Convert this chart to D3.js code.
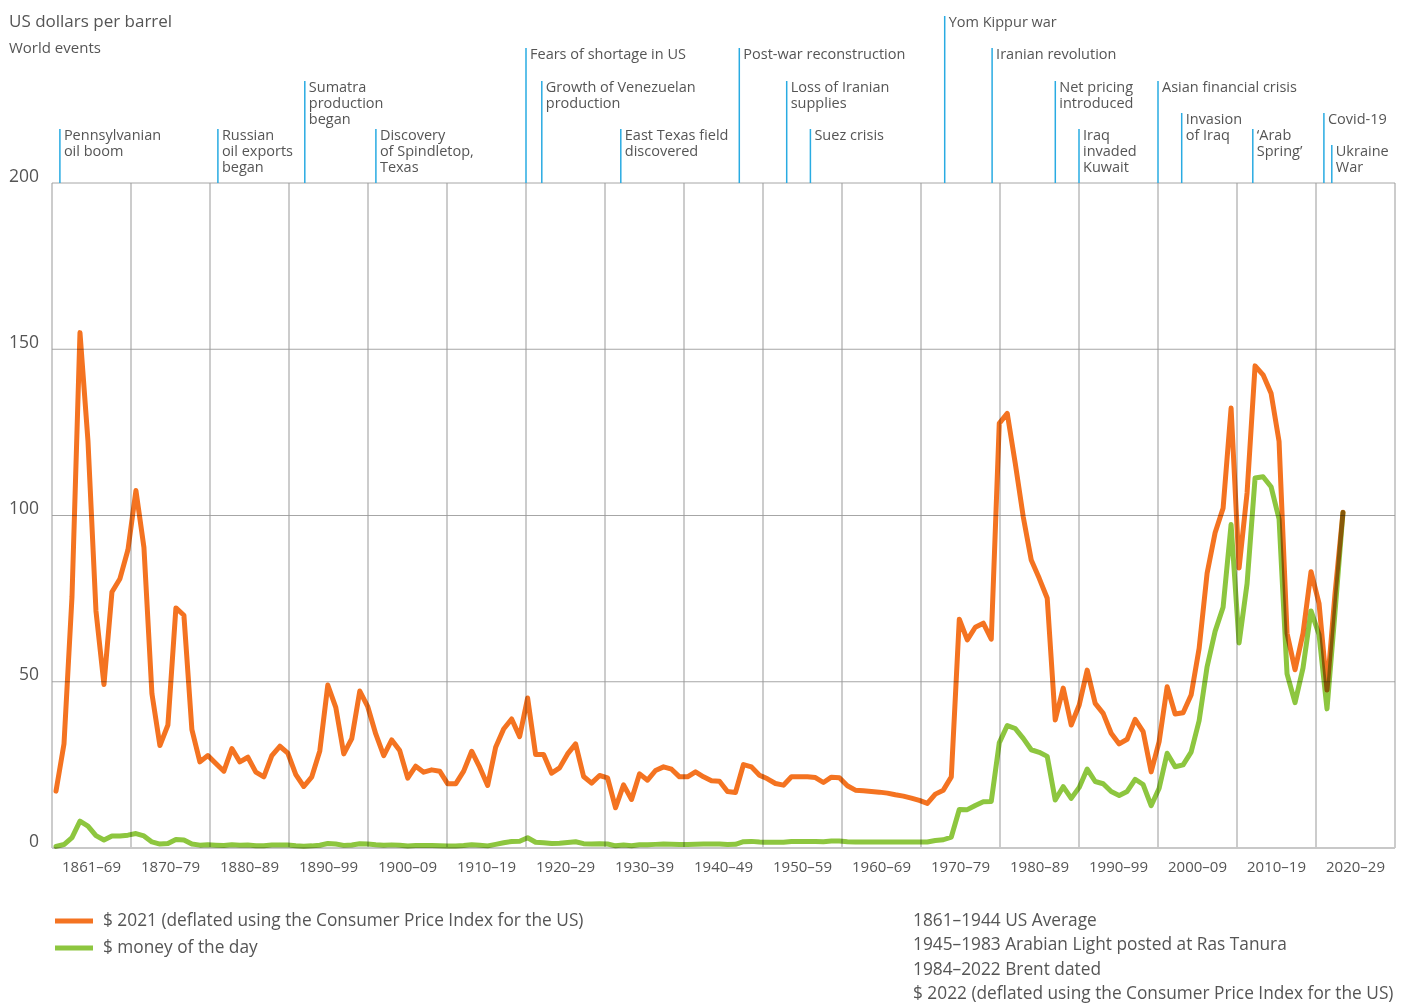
<!DOCTYPE html>
<html>
<head>
<meta charset="utf-8">
<script src="https://cdn.jsdelivr.net/npm/d3@7/dist/d3.min.js"></script>
<style>
  body { margin: 0; background: #fff; }
  svg text { font-family: "Open Sans", "Noto Sans", sans-serif; fill: #555; }
</style>
</head>
<body>
<div id="chart"></div>
<script>
// ---- data ----
const years = d3.range(1861, 2023);

const decadeLabels = ["1861–69", "1870–79", "1880–89", "1890–99", "1900–09", "1910–19",
  "1920–29", "1930–39", "1940–49", "1950–59", "1960–69", "1970–79", "1980–89",
  "1990–99", "2000–09", "2010–19", "2020–29"];

const yTicks = [0, 50, 100, 150, 200];

// deflated price, one value per year 1861-2022
const realPrice = [
  17.1, 31.3, 75.5, 155, 122.4, 71.3, 49.2, 77, 81,
  89.7, 107.5, 90.4, 46.4, 30.8, 37, 72.2, 70, 35.6, 25.9,
  27.8, 25.4, 23.1, 29.9, 25.9, 27.3, 22.8, 21.4, 27.8, 30.6,
  28.5, 22.1, 18.5, 21.4, 29.2, 49, 42.3, 28.3, 32.9, 47.2,
  42.5, 34.3, 27.8, 32.5, 29.3, 21, 24.6, 22.8, 23.5, 23.1,
  19.3, 19.3, 23.1, 29.1, 24.3, 18.8, 30.3, 35.8, 38.8, 33.5,
  45.1, 28.1, 28.1, 22.5, 24.1, 28.3, 31.3, 21.5, 19.5, 21.8,
  21.1, 12.1, 19, 14.6, 22.3, 20.4, 23.3, 24.4, 23.7, 21.4,
  21.4, 22.9, 21.4, 20.2, 20.1, 17, 16.7, 25.1, 24.4, 21.9,
  20.8, 19.4, 18.9, 21.4, 21.4, 21.4, 21.2, 19.7, 21.3, 21.1,
  18.7, 17.4, 17.2, 17, 16.8, 16.5, 16, 15.6, 15, 14.3,
  13.4, 16.2, 17.4, 21.4, 68.8, 62.6, 66.4, 67.6, 62.8, 127.7,
  130.7, 115.7, 99.6, 86.6, 81.1, 75.1, 38.5, 48.1, 37, 43,
  53.5, 43.5, 40.5, 34.5, 31.3, 32.7, 38.7, 35, 22.9, 32,
  48.5, 40.3, 40.7, 46, 60, 82.6, 94.8, 102.2, 132.3, 84.2,
  106.8, 145, 142.3, 136.8, 122.3, 64.6, 53.6, 64.6, 83.1, 73.6,
  47.5, 76.5, 101
];

// money of the day, 1861-2022
const nominalPrice = [
  0.49, 1.05, 3.15, 8.06, 6.59, 3.74, 2.41, 3.63, 3.64,
  3.86, 4.34, 3.64, 1.83, 1.17, 1.35, 2.56, 2.42, 1.19, 0.86,
  0.95, 0.86, 0.78, 1.00, 0.84, 0.88, 0.71, 0.67, 0.88, 0.94,
  0.87, 0.67, 0.56, 0.64, 0.84, 1.36, 1.18, 0.79, 0.91, 1.29,
  1.19, 0.96, 0.80, 0.94, 0.86, 0.62, 0.73, 0.72, 0.72, 0.70,
  0.61, 0.61, 0.74, 0.95, 0.81, 0.64, 1.10, 1.56, 1.98, 2.01,
  3.07, 1.73, 1.61, 1.34, 1.43, 1.68, 1.88, 1.30, 1.17, 1.27,
  1.19, 0.65, 0.87, 0.67, 1.00, 0.97, 1.09, 1.18, 1.13, 1.02,
  1.02, 1.14, 1.19, 1.20, 1.21, 1.05, 1.12, 1.90, 1.99, 1.78,
  1.71, 1.71, 1.71, 1.93, 1.93, 1.93, 1.93, 1.90, 2.08, 2.08,
  1.90, 1.80, 1.80, 1.80, 1.80, 1.80, 1.80, 1.80, 1.80, 1.80,
  1.80, 2.24, 2.48, 3.29, 11.58, 11.53, 12.80, 13.92, 14.02, 31.61,
  36.83, 35.93, 32.97, 29.55, 28.78, 27.56, 14.43, 18.44, 14.92, 18.23,
  23.73, 20.00, 19.32, 16.97, 15.82, 17.02, 20.67, 19.09, 12.72, 17.97,
  28.50, 24.44, 25.02, 28.83, 38.27, 54.52, 65.14, 72.39, 97.26, 61.67,
  79.50, 111.26, 111.67, 108.66, 98.95, 52.39, 43.73, 54.19, 71.31, 64.21,
  41.84, 70.91, 100.93
];

const eventYears = [1861, 1881, 1892, 1901, 1920, 1922, 1932, 1947, 1953, 1956,
  1973, 1979, 1987, 1990, 2000, 2003, 2012, 2021, 2022];
const eventLabels = [
  ["Pennsylvanian", "oil boom"],
  ["Russian", "oil exports", "began"],
  ["Sumatra", "production", "began"],
  ["Discovery", "of Spindletop,", "Texas"],
  ["Fears of shortage in US"],
  ["Growth of Venezuelan", "production"],
  ["East Texas field", "discovered"],
  ["Post-war reconstruction"],
  ["Loss of Iranian", "supplies"],
  ["Suez crisis"],
  ["Yom Kippur war"],
  ["Iranian revolution"],
  ["Net pricing", "introduced"],
  ["Iraq", "invaded", "Kuwait"],
  ["Asian financial crisis"],
  ["Invasion", "of Iraq"],
  ["\u2018Arab", "Spring\u2019"],
  ["Covid-19"],
  ["Ukraine", "War"]
];

const seriesNames = ["$ 2021 (deflated using the Consumer Price Index for the US)", "$ money of the day"];
const notes = ["1861–1944 US Average", "1945–1983 Arabian Light posted at Ras Tanura",
  "1984–2022 Brent dated", "$ 2022 (deflated using the Consumer Price Index for the US)"];

// ---- layout ----
const width = 1415, height = 1003;
const plot = { left: 52, right: 1395, top: 183, bottom: 848 };
const orange = "#f47321", green = "#8dc63f", blue = "#29abe2";
// label row (top of the blue line) for each event
const rowTops = [16, 48, 81, 113, 129, 145];
const eventRow = [4, 4, 2, 4, 1, 2, 4, 1, 2, 4, 0, 1, 2, 4, 2, 3, 4, 3, 5];

const svg = d3.select("#chart").append("svg")
  .attr("width", width).attr("height", height);

const xBand = d3.scaleBand().domain(decadeLabels).range([plot.left, plot.right]);
const xYear = d3.scaleLinear().domain([1860, 2030]).range([plot.left, plot.right]);
const xData = d3.scalePoint().domain(years).range([56, 1343]);
const y = d3.scaleLinear().domain([0, 200]).range([plot.bottom, plot.top]);

// grid
svg.append("g").selectAll("line").data(yTicks.filter(d => d > 0)).join("line")
  .attr("x1", plot.left).attr("x2", plot.right)
  .attr("y1", d => y(d)).attr("y2", d => y(d))
  .attr("stroke", "#a6a6a6").attr("stroke-width", 1);

const vlines = decadeLabels.map(d => xBand(d)).concat([plot.right]);
svg.append("g").selectAll("line").data(vlines).join("line")
  .attr("x1", d => d).attr("x2", d => d)
  .attr("y1", plot.top).attr("y2", plot.bottom)
  .attr("stroke", "#999").attr("stroke-width", 1);

svg.append("line")
  .attr("x1", plot.left).attr("x2", plot.right)
  .attr("y1", y(0)).attr("y2", y(0))
  .attr("stroke", "#c8c8c8").attr("stroke-width", 2);

// y labels
svg.append("g").selectAll("text").data(yTicks).join("text")
  .attr("x", 39).attr("y", d => y(d) - 6)
  .attr("text-anchor", "end").attr("dominant-baseline", "middle")
  .style("font-size", "17.5px")
  .text(d => d);

// x labels
svg.append("g").selectAll("text").data(decadeLabels).join("text")
  .attr("x", d => xBand(d) + xBand.bandwidth() / 2).attr("y", 868)
  .attr("text-anchor", "middle").attr("dominant-baseline", "middle")
  .style("font-size", "15px")
  .text(d => d);

// titles
svg.append("text").attr("x", 9).attr("y", 22).attr("dominant-baseline", "middle")
  .style("font-size", "17px").text("US dollars per barrel");
svg.append("text").attr("x", 9).attr("y", 49).attr("dominant-baseline", "middle")
  .style("font-size", "15px").text("World events");

// events
const ev = svg.append("g").selectAll("g").data(eventYears).join("g");
ev.append("line")
  .attr("x1", d => xYear(d)).attr("x2", d => xYear(d))
  .attr("y1", (d, i) => rowTops[eventRow[i]]).attr("y2", plot.top)
  .attr("stroke", blue).attr("stroke-width", 1.5);
ev.each(function (d, i) {
  eventLabels[i].forEach((s, k) => {
    d3.select(this).append("text")
      .attr("x", xYear(d) + 4)
      .attr("y", rowTops[eventRow[i]] + 7 + k * 16)
      .attr("dominant-baseline", "middle")
      .style("font-size", "14.5px")
      .text(s);
  });
});

// price lines
const line = d3.line().x((d, i) => xData(years[i])).y(d => y(d));
[[realPrice, orange], [nominalPrice, green]].forEach(([vals, col]) => {
  svg.append("path").datum(vals)
    .attr("d", line)
    .attr("fill", "none").attr("stroke", col).attr("stroke-width", 5)
    .attr("stroke-linejoin", "round").attr("stroke-linecap", "round")
    .style("mix-blend-mode", "multiply");
});

// legend
const lg = svg.append("g").selectAll("g").data(seriesNames).join("g")
  .attr("transform", (d, i) => `translate(55,${921 + i * 27})`);
lg.append("line").attr("x1", 0).attr("x2", 38)
  .attr("stroke", (d, i) => i === 0 ? orange : green).attr("stroke-width", 5);
lg.append("text").attr("x", 48).attr("dominant-baseline", "middle")
  .style("font-size", "17.3px").text(d => d);

svg.append("g").selectAll("text").data(notes).join("text")
  .attr("x", 913).attr("y", (d, i) => 921 + i * 24.5)
  .attr("dominant-baseline", "middle")
  .style("font-size", "17.3px").text(d => d);
</script>
</body>
</html>
